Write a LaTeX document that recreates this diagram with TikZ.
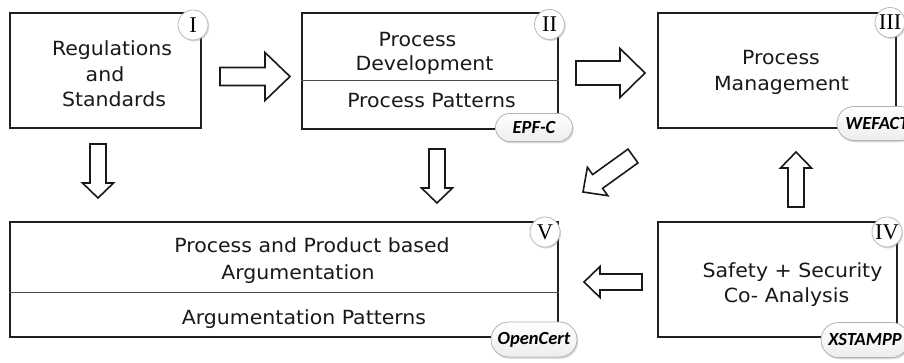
\documentclass[tikz,border=0pt]{standalone}
\usepackage{fontspec}
\setmainfont{DejaVu Sans}[FakeStretch=1.05]
\newfontfamily\tagfont{Carlito}
\newfontfamily\numfont{Liberation Serif}
\usetikzlibrary{calc,shapes.misc,shadows}

% Hollow block arrow: #1 tail centre, #2 tip, #3 half shaft width,
% #4 half head width, #5 head length
\newcommand\blockarrow[5]{%
  \coordinate (ba-h) at ($(#2)!#5!(#1)$);
  \draw[blockarrow]
    ($(#1)!#3!90:(#2)$) -- ($(ba-h)!#3!90:(#2)$) -- ($(ba-h)!#4!90:(#2)$)
    -- (#2)
    -- ($(ba-h)!#4!-90:(#2)$) -- ($(ba-h)!#3!-90:(#2)$) -- ($(#1)!#3!-90:(#2)$)
    -- cycle;}

\begin{document}
\begin{tikzpicture}[x=1pt,y=-1pt,
  box/.style={draw=black!88, line width=2.2pt, fill=white, inner sep=0pt},
  divider/.style={draw=black!70, line width=1pt},
  txt/.style={anchor=base, inner sep=0pt, font=\fontsize{19.5}{22}\selectfont, text=black!90},
  numcirc/.style={circle, draw=gray!55, line width=0.8pt, fill=white,
    minimum size=30pt, inner sep=0pt, font=\numfont\fontsize{22.5}{22.5}\selectfont,
    drop shadow={shadow xshift=1.2pt, shadow yshift=-1.5pt, opacity=0.3}},
  tag/.style={rounded rectangle, draw=gray!60, line width=0.8pt,
    top color=white, bottom color=gray!14, inner sep=0pt,
    font=\tagfont\bfseries\itshape\fontsize{18.5}{18.5}\selectfont,
    drop shadow={shadow xshift=1.2pt, shadow yshift=-1.8pt, opacity=0.3}},
  blockarrow/.style={draw=black!90, line width=1.6pt, fill=white, line join=miter}]

\useasboundingbox (0,0) rectangle (904,363);

% ---- boxes
\node[box, minimum width=191pt, minimum height=115pt] (reg) at (105.5,70.5) {};
\node[box, minimum width=256pt, minimum height=116pt] (dev) at (430,71) {};
\node[box, minimum width=238pt, minimum height=115pt] (mgmt) at (777,70.5) {};
\node[box, minimum width=239pt, minimum height=115pt] (ana) at (777.5,279.5) {};
\node[box, minimum width=548pt, minimum height=115pt] (arg) at (284,279.5) {};

\draw[divider] (dev.west |- 0,81) -- (dev.east |- 0,81);
\draw[divider] (arg.west |- 0,292) -- (arg.east |- 0,292);

% ---- box texts
\node[txt] (reg1) at (112,56) {Regulations};
\node[txt] (reg2) at (105,81.5) {and};
\node[txt] (reg3) at (114,107) {Standards};

\node[txt] (dev1) at (417.5,46.5) {Process};
\node[txt] (dev2) at (424.5,71) {Development};
\node[txt] (dev3) at (431.5,108) {Process Patterns};

\node[txt] (mgmt1) at (781,65) {Process};
\node[txt] (mgmt2) at (781.5,90.5) {Management};

\node[txt] (ana1) at (792.5,277) {Safety + Security};
\node[txt] (ana2) at (786.5,302) {Co- Analysis};

\node[txt] (arg1) at (312,253) {Process and Product based};
\node[txt] (arg2) at (298,279) {Argumentation};
\node[txt] (arg3) at (304,324) {Argumentation Patterns};

% ---- numbered badges
\node[numcirc] (n1) at (193,25) {I};
\node[numcirc] (n2) at (549.5,24.5) {II};
\node[numcirc] (n3) at (890,22.5) {III};
\node[numcirc] (n4) at (887,232) {IV};
\node[numcirc] (n5) at (545,232) {V};

% ---- tool tags
\node[tag, minimum width=77pt, minimum height=28pt] (epf) at (534,127.5) {EPF-C};
\node[tag, minimum width=80pt, minimum height=34pt] (wef) at (877,123.5) {WEFACT};
\node[tag, minimum width=88pt, minimum height=35pt] (xst) at (865,340) {XSTAMPP};
\node[tag, minimum width=86pt, minimum height=35pt] (ocert) at (534,339.5) {OpenCert};

% ---- arrow ends
\coordinate (a12s) at (220,76.5);  \coordinate (a12e) at (290,76.5);
\coordinate (a23s) at (576,73);    \coordinate (a23e) at (645,73);
\coordinate (d1s)  at (98,144);    \coordinate (d1e)  at (98,198);
\coordinate (d2s)  at (437,149);   \coordinate (d2e)  at (437,203);
\coordinate (ups)  at (796,207);   \coordinate (upe)  at (796,152);
\coordinate (lfs)  at (642,282);   \coordinate (lfe)  at (584,282);
\coordinate (dgs)  at (633,156);   \coordinate (dge)  at (583,192);

\blockarrow{a12s}{a12e}{9pt}{24pt}{25pt}
\blockarrow{a23s}{a23e}{12pt}{24.5pt}{25pt}
\blockarrow{d1s}{d1e}{8pt}{15.5pt}{15pt}
\blockarrow{d2s}{d2e}{8pt}{15.5pt}{15pt}
\blockarrow{ups}{upe}{8pt}{15.5pt}{16pt}
\blockarrow{lfs}{lfe}{8pt}{15.5pt}{16pt}
\blockarrow{dgs}{dge}{8.5pt}{17.5pt}{18pt}

\end{tikzpicture}
\end{document}
